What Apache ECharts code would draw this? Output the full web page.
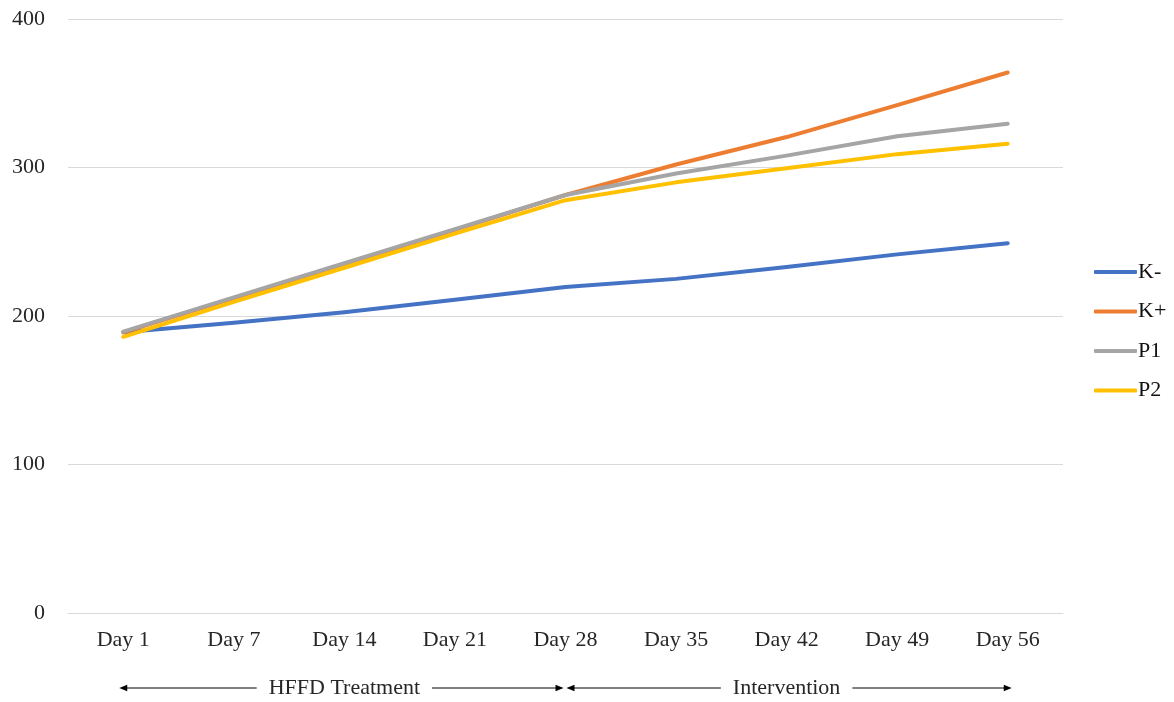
<!DOCTYPE html>
<html>
<head>
<meta charset="utf-8">
<script src="https://cdn.jsdelivr.net/npm/echarts@6/dist/echarts.min.js"></script>
<style>
  html, body { margin: 0; padding: 0; background: #fff; }
  #chart { width: 1174px; height: 702px; }
</style>
</head>
<body>
<div id="chart"></div>
<script>
// Sampling days
const days = ['Day 1', 'Day 7', 'Day 14', 'Day 21', 'Day 28', 'Day 35', 'Day 42', 'Day 49', 'Day 56'];

// Group means
const kMinus = [189, 195.5, 202.5, 211, 219.5, 225, 233, 241.5, 249];
const kPlus  = [189, 212, 235, 258, 281.5, 302, 320.5, 342, 364];
const p1     = [189.5, 212.5, 235.5, 258.5, 281.5, 296, 308, 321, 329.5];
const p2     = [186, 209.5, 232.5, 255.5, 278, 290, 299.5, 309, 316];

// Y-axis range and step
const yMin = 0, yMax = 400, yStep = 100;

// Study phases shown under the axis: [label, first day, last day]
const phases = [
  ['HFFD Treatment', 'Day 1', 'Day 28'],
  ['Intervention', 'Day 28', 'Day 56']
];

const FONT = '"Liberation Serif", "Times New Roman", serif';
const TEXT = '#262626';
const GRID = '#d9d9d9';

const chart = echarts.init(document.getElementById('chart'), null, { renderer: 'canvas' });

function lineSeries(name, data, color) {
  return {
    name, type: 'line', data,
    symbol: 'none',
    smooth: false,
    lineStyle: { color, width: 4, cap: 'round', join: 'round' },
    itemStyle: { color },
    emphasis: { disabled: true }
  };
}

chart.setOption({
  animation: false,
  textStyle: { fontFamily: FONT },
  grid: { left: 68, right: 111, top: 19, bottom: 89, containLabel: false },
  legend: {
    orient: 'vertical',
    left: 1094, top: 261,
    padding: 0,
    icon: 'roundRect',
    itemWidth: 43, itemHeight: 4,
    itemGap: 17.5,
    textStyle: { fontFamily: FONT, fontSize: 22, color: '#111', lineHeight: 22, padding: [0, 0, 0, -4] },
    data: ['K-', 'K+', 'P1', 'P2']
  },
  xAxis: {
    type: 'category',
    data: days,
    boundaryGap: true,
    axisLine: { lineStyle: { color: GRID, width: 1 } },
    axisTick: { show: false },
    axisLabel: { fontFamily: FONT, fontSize: 22, color: TEXT, margin: 16 }
  },
  yAxis: {
    type: 'value',
    min: yMin, max: yMax, interval: yStep,
    axisLine: { show: false },
    axisTick: { show: false },
    splitLine: { lineStyle: { color: GRID, width: 1 } },
    axisLabel: { fontFamily: FONT, fontSize: 22, color: TEXT, margin: 23, padding: [0, 0, 6, 0] }
  },
  series: [
    lineSeries('K-', kMinus, '#4472C4'),
    lineSeries('K+', kPlus, '#ED7D31'),
    lineSeries('P1', p1, '#A5A5A5'),
    lineSeries('P2', p2, '#FFC000')
  ]
});

// Phase arrows under the category axis, placed from the axis positions
const ctx = document.createElement('canvas').getContext('2d');
ctx.font = '22px ' + FONT;
const arrowY = 688;
const head = 8, halfH = 3.2, pad = 4, gapTxt = 12;
const elements = [];

function arrowHead(tipX, dir) {
  // dir = -1 points left, +1 points right
  return {
    type: 'polygon',
    shape: { points: [[tipX, arrowY], [tipX - dir * head, arrowY - halfH], [tipX - dir * head, arrowY + halfH]] },
    style: { fill: '#000' }
  };
}

phases.forEach(([label, from, to], i) => {
  const x0 = chart.convertToPixel({ xAxisIndex: 0 }, from);
  const x1 = chart.convertToPixel({ xAxisIndex: 0 }, to);
  const left = i === 0 ? x0 - pad : x0 + 1;
  const right = i === phases.length - 1 ? x1 + pad : x1 - 2;
  const mid = (x0 + x1) / 2;
  const w = ctx.measureText(label).width;
  elements.push({
    type: 'line',
    shape: { x1: left + head - 1, y1: arrowY, x2: mid - w / 2 - gapTxt, y2: arrowY },
    style: { stroke: '#000', lineWidth: 1 }
  });
  elements.push({
    type: 'line',
    shape: { x1: mid + w / 2 + gapTxt, y1: arrowY, x2: right - head + 1, y2: arrowY },
    style: { stroke: '#000', lineWidth: 1 }
  });
  elements.push(arrowHead(left, -1));
  elements.push(arrowHead(right, 1));
  elements.push({
    type: 'text',
    x: mid, y: arrowY,
    style: { text: label, font: '22px ' + FONT, fill: TEXT, align: 'center', verticalAlign: 'middle' }
  });
});

chart.setOption({ graphic: { elements } });
</script>
</body>
</html>
